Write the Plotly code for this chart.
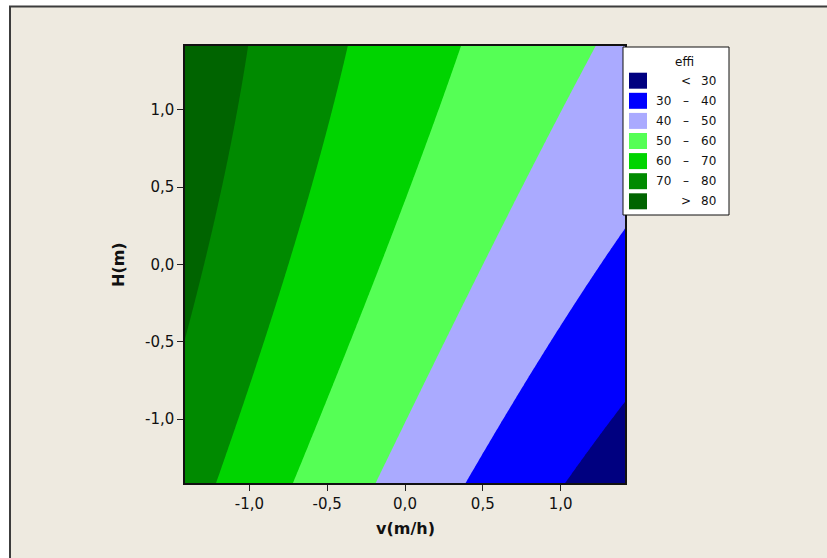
import numpy as np
import plotly.graph_objects as go

# Coded factor range (axial distance of the rotatable design)
ALPHA = 1.414

# Second-order response-surface model for effi in coded units
b0 = 57.5      # intercept
b_v = -15.65   # v(m/h)
b_H = 6.41     # H(m)
b_vv = 1.37    # v^2
b_HH = -0.90   # H^2
b_vH = 1.36    # v*H

# Contour levels and band styling
levels = [30, 40, 50, 60, 70, 80]
band_colors = ["#000080", "#0000FF", "#AAAAFF", "#55FF55",
               "#00D400", "#008A00", "#006400"]
band_left = ["", "30", "40", "50", "60", "70", ""]
band_mid = ["<", "\u2013", "\u2013", "\u2013", "\u2013", "\u2013", ">"]
band_right = ["30", "40", "50", "60", "70", "80", "80"]

x_tickvals = [-1.0, -0.5, 0.0, 0.5, 1.0]
x_ticktext = ["-1,0", "-0,5", "0,0", "0,5", "1,0"]
y_tickvals = [-1.0, -0.5, 0.0, 0.5, 1.0]
y_ticktext = ["-1,0", "-0,5", "0,0", "0,5", "1,0"]

W, H = 827, 558
ML, MR, MT, MB = 185, 202, 46, 75
PW, PH = W - ML - MR, H - MT - MB


def px_x(x):
    return (x - ML) / PW


def px_y(y):
    return (H - MB - y) / PH


v = np.linspace(-ALPHA, ALPHA, 241)
h = np.linspace(-ALPHA, ALPHA, 241)
V, HH = np.meshgrid(v, h)
effi = (b0 + b_v * V + b_H * HH + b_vv * V ** 2 + b_HH * HH ** 2
        + b_vH * V * HH)

n = len(band_colors)
step_scale = []
for i, c in enumerate(band_colors):
    step_scale.append([i / n, c])
    step_scale.append([(i + 1) / n, c])

step = levels[1] - levels[0]
fig = go.Figure(go.Contour(
    x=v, y=h, z=effi,
    zmin=levels[0] - step, zmax=levels[-1] + step,
    colorscale=step_scale,
    contours=dict(start=levels[0], end=levels[-1], size=step,
                  coloring="fill", showlines=False),
    line=dict(width=0),
    showscale=False,
    hoverinfo="skip",
))

BG = "#EEEAE0"
font = "DejaVu Sans"

shapes = [
    # beige panel with dark frame
    dict(type="rect", xref="paper", yref="paper", layer="below",
         x0=px_x(10), x1=px_x(835), y0=px_y(565), y1=px_y(6.5),
         fillcolor=BG, line=dict(color="#3c3c3c", width=2)),
    # legend box
    dict(type="rect", xref="paper", yref="paper",
         x0=px_x(623), x1=px_x(729), y0=px_y(215), y1=px_y(47),
         fillcolor="white", line=dict(color="#111", width=1)),
]

annotations = [
    dict(text="<b>v(m/h)</b>", xref="paper", yref="paper",
         x=0.5, y=px_y(528), showarrow=False, xanchor="center",
         yanchor="middle", font=dict(family=font, size=16, color="#111")),
    dict(text="<b>H(m)</b>", xref="paper", yref="paper",
         x=px_x(118), y=px_y(265), showarrow=False, textangle=-90,
         xanchor="center", yanchor="middle",
         font=dict(family=font, size=16, color="#111")),
    dict(text="effi", xref="paper", yref="paper", x=px_x(684), y=px_y(62),
         showarrow=False, xanchor="center", yanchor="middle",
         font=dict(family=font, size=12, color="#111")),
]

row0, row_gap = 80.7, 20.1
lf = dict(family=font, size=12, color="#111")
for i, c in enumerate(band_colors):
    yc = row0 + row_gap * i
    shapes.append(dict(type="rect", xref="paper", yref="paper",
                       x0=px_x(629), x1=px_x(647),
                       y0=px_y(yc + 8), y1=px_y(yc - 8),
                       fillcolor=c, line=dict(width=0)))
    if band_left[i]:
        annotations.append(dict(text=band_left[i], xref="paper",
                                yref="paper", x=px_x(673), y=px_y(yc),
                                showarrow=False, xanchor="right",
                                yanchor="middle", font=lf))
    annotations.append(dict(text=band_mid[i], xref="paper", yref="paper",
                            x=px_x(686), y=px_y(yc), showarrow=False,
                            xanchor="center", yanchor="middle", font=lf))
    annotations.append(dict(text=band_right[i], xref="paper", yref="paper",
                            x=px_x(718), y=px_y(yc), showarrow=False,
                            xanchor="right", yanchor="middle", font=lf))

axis_common = dict(
    range=[-ALPHA, ALPHA], showgrid=False, zeroline=False,
    ticks="outside", ticklen=6, tickwidth=1, tickcolor="#222",
    showline=True, linecolor="#111", linewidth=1.5, mirror=True,
    tickfont=dict(family=font, size=15, color="#111"),
)

fig.update_layout(
    width=W, height=H, autosize=False,
    margin=dict(l=ML, r=MR, t=MT, b=MB, pad=0),
    paper_bgcolor="white", plot_bgcolor=BG,
    xaxis=dict(tickvals=x_tickvals, ticktext=x_ticktext, **axis_common),
    yaxis=dict(tickvals=y_tickvals, ticktext=y_ticktext, **axis_common),
    shapes=shapes, annotations=annotations,
    showlegend=False,
)

fig.write_html("out.html")
